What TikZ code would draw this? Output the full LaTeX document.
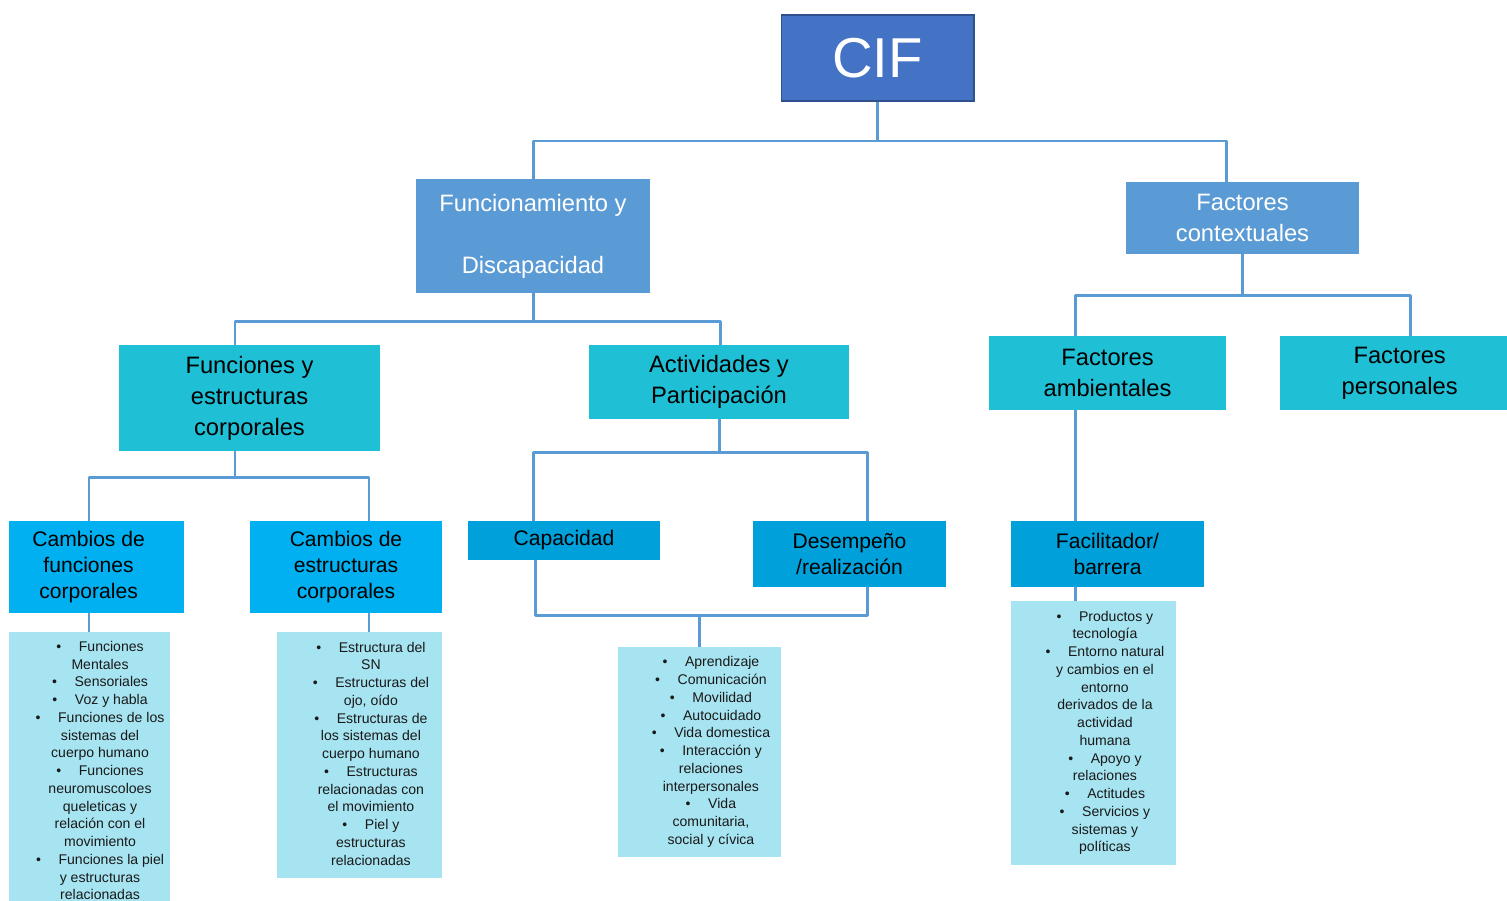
\documentclass[tikz,border=0pt]{standalone}
\usepackage{fontspec}
\setmainfont{Liberation Sans}
\usepackage{tikz}
\definecolor{cifblue}{HTML}{4472C4}
\definecolor{cifedge}{HTML}{2F528F}
\definecolor{midblue}{HTML}{5B9BD5}
\definecolor{aquateal}{HTML}{1FBFD6}
\definecolor{skyfill}{HTML}{00B0F0}
\definecolor{deepsky}{HTML}{00A0DA}
\definecolor{listfill}{HTML}{A7E4F1}
\definecolor{linkblue}{HTML}{5B9BD5}
\newcommand{\lbul}{\textbullet\hspace{10pt}}
\newcommand{\boxlines}[2]{\hspace*{#1}\begin{tabular}{@{}c@{}}#2\end{tabular}}
\tikzset{
  cifbox/.style={rectangle, draw=cifedge, line width=0.6pt, fill=cifblue, text=white, align=center, minimum width=3.86cm, minimum height=1.72cm, font=\fontsize{32}{36}\selectfont},
  mainbox/.style={rectangle, fill=midblue, text=white, align=center, inner sep=2pt, font=\fontsize{13.5}{17.6}\selectfont},
  groupbox/.style={rectangle, fill=aquateal, text=black, align=center, inner sep=2pt, font=\fontsize{13.5}{17.6}\selectfont},
  subbox/.style={rectangle, fill=skyfill, text=black, inner sep=2pt, font=\fontsize{12}{14.8}\selectfont},
  itembox/.style={rectangle, fill=deepsky, text=black, align=center, inner sep=2pt, font=\fontsize{12}{14.8}\selectfont},
  listbox/.style={rectangle, fill=listfill, text=black!90, inner sep=2pt, font=\fontsize{8}{10.1}\selectfont},
  link/.style={draw=linkblue, line width=1.7pt, line join=round},
}

\begin{document}
\begin{tikzpicture}[x=0.02cm, y=-0.02cm]
  \useasboundingbox (0,0) rectangle (1507,900);

  % top
  \node[cifbox] (cif) at (877.5,58) {CIF};
  \node[mainbox, minimum width=4.68cm, minimum height=2.28cm] (fd) at (533,236) {Funcionamiento y\\[17.6pt]Discapacidad};
  \node[mainbox, minimum width=4.66cm, minimum height=1.44cm] (fc) at (1242.5,218) {Factores\\contextuales};

  % third row
  \node[groupbox, minimum width=5.22cm, minimum height=2.12cm] (fec) at (249.5,398) {Funciones y\\estructuras\\corporales};
  \node[groupbox, minimum width=5.2cm, minimum height=1.48cm] (ap) at (719,382) {Actividades y\\Participación};
  \node[groupbox, minimum width=4.74cm, minimum height=1.48cm] (fa) at (1107.5,373) {Factores\\ambientales};
  \node[groupbox, minimum width=4.54cm, minimum height=1.48cm] (fp) at (1393.5,373) {\boxlines{7pt}{Factores\\personales}};

  % fourth row
  \node[subbox, minimum width=3.5cm, minimum height=1.84cm] (cfc) at (96.5,567) {\boxlines{-9pt}{Cambios de\\funciones\\corporales}};
  \node[subbox, minimum width=3.84cm, minimum height=1.84cm] (cec) at (346,567) {\boxlines{0pt}{Cambios de\\estructuras\\corporales}};
  \node[itembox, minimum width=3.84cm, minimum height=0.78cm] (cap) at (564,540.5) {Capacidad};
  \node[itembox, minimum width=3.86cm, minimum height=1.32cm] (des) at (849.5,554) {Desempeño\\/realización};
  \node[itembox, minimum width=3.86cm, minimum height=1.32cm] (fb) at (1107.5,554) {Facilitador/\\barrera};

  % lists
  \node[listbox, minimum width=3.22cm, minimum height=5.6cm] (l1) at (89.5,772) {\boxlines{12pt}{\lbul Funciones\\Mentales\\\lbul Sensoriales\\\lbul Voz y habla\\\lbul Funciones de los\\sistemas del\\cuerpo humano\\\lbul Funciones\\neuromuscoloes\\queleticas y\\relación con el\\movimiento\\\lbul Funciones la piel\\y estructuras\\relacionadas}};
  \node[listbox, minimum width=3.3cm, minimum height=4.92cm] (l2) at (359.5,755) {\boxlines{13pt}{\lbul Estructura del\\SN\\\lbul Estructuras del\\ojo, oído\\\lbul Estructuras de\\los sistemas del\\cuerpo humano\\\lbul Estructuras\\relacionadas con\\el movimiento\\\lbul Piel y\\estructuras\\relacionadas}};
  \node[listbox, minimum width=3.26cm, minimum height=4.2cm] (l3) at (699.5,752) {\boxlines{13pt}{\lbul Aprendizaje\\\lbul Comunicación\\\lbul Movilidad\\\lbul Autocuidado\\\lbul Vida domestica\\\lbul Interacción y\\relaciones\\interpersonales\\\lbul Vida\\comunitaria,\\social y cívica}};
  \node[listbox, minimum width=3.3cm, minimum height=5.28cm] (l4) at (1093.5,733) {\boxlines{13pt}{\lbul Productos y\\tecnología\\\lbul Entorno natural\\y cambios en el\\entorno\\derivados de la\\actividad\\humana\\\lbul Apoyo y\\relaciones\\\lbul Actitudes\\\lbul Servicios y\\sistemas y\\políticas}};

  % junctions
  \coordinate (j1l) at (533,141);  \coordinate (j1r) at (1226,141);
  \coordinate (j2l) at (235,321);  \coordinate (j2r) at (720,321);
  \coordinate (j3l) at (1075,295); \coordinate (j3r) at (1410,295);
  \coordinate (j4l) at (89,477);   \coordinate (j4m) at (235,477); \coordinate (j4r) at (369,477);
  \coordinate (j5l) at (533,452);  \coordinate (j5r) at (867,452);
  \coordinate (j6l) at (535,615);  \coordinate (j6r) at (867,615);

  \draw[link] (cif.south) -- (cif.south |- j1l);
  \draw[link] (fd.north) -- (j1l) -- (j1r) -- (fc.north -| j1r);
  \draw[link] (fd.south) -- (fd.south |- j2l);
  \draw[link] (fec.north -| j2l) -- (j2l) -- (j2r) -- (ap.north -| j2r);
  \draw[link] (fc.south) -- (fc.south |- j3l);
  \draw[link] (fa.north -| j3l) -- (j3l) -- (j3r) -- (fp.north -| j3r);
  \draw[link] (fec.south -| j4m) -- (j4m);
  \draw[link] (cfc.north -| j4l) -- (j4l) -- (j4r) -- (cec.north -| j4r);
  \draw[link] (ap.south) -- (ap.south |- j5l);
  \draw[link] (cap.north -| j5l) -- (j5l) -- (j5r) -- (des.north -| j5r);
  \draw[link] (cap.south -| j6l) -- (j6l) -- (j6r) -- (des.south -| j6r);
  \draw[link] (l3.north) -- (l3.north |- j6l);
  \draw[link] (fa.south -| j3l) -- (fb.north -| j3l);
  \draw[link] (fb.south -| j3l) -- (l4.north -| j3l);
  \draw[link] (cfc.south -| j4l) -- (l1.north -| j4l);
  \draw[link] (cec.south -| j4r) -- (l2.north -| j4r);
\end{tikzpicture}
\end{document}
